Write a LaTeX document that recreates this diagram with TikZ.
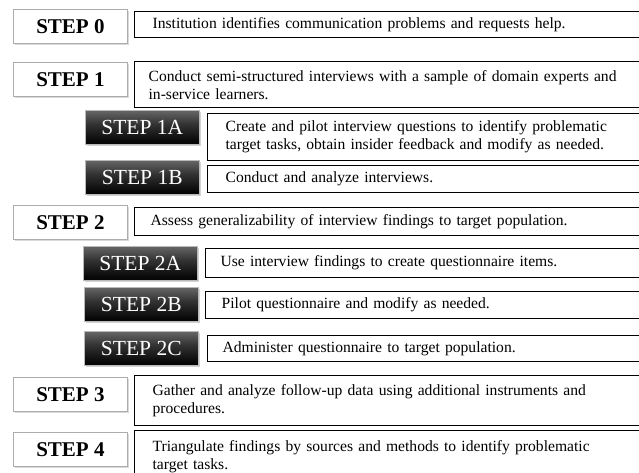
\documentclass[tikz,border=0pt]{standalone}
\usepackage{fontspec}
\setmainfont{Liberation Serif}
\usetikzlibrary{shadows}
\pgfdeclareverticalshading{darkstep}{100bp}{color(0bp)=(black); color(30bp)=(black!97); color(55bp)=(black!80); color(80bp)=(black!55); color(100bp)=(black!32)}
\begin{document}
\begin{tikzpicture}[x=1pt,y=-1pt,
  mainstep/.style={draw=gray!65, line width=0.8pt, fill=white, minimum width=114pt, minimum height=34pt,
    anchor=north west, inner sep=0pt, font=\fontsize{21}{23}\selectfont\bfseries,
    drop shadow={opacity=0.3, shadow xshift=1.2pt, shadow yshift=-1.5pt}},
  substep/.style={draw=gray!55, line width=0.6pt, shading=darkstep, minimum width=114pt, minimum height=34pt,
    anchor=north west, inner sep=0pt, text=white, font=\fontsize{21.5}{23}\selectfont,
    drop shadow={opacity=0.35, shadow xshift=1.2pt, shadow yshift=-1.5pt}},
  desc/.style={draw=black, line width=1.3pt, fill=white, anchor=north west, text width=540pt,
    inner xsep=16pt, inner ysep=0pt, align=left, font=\fontsize{15.6}{18}\selectfont}]
\useasboundingbox (0,0) rectangle (639,472);
\clip (0,0) rectangle (639,472);

% main steps
\node[mainstep] (s0) at (13,9)   {STEP 0};
\node[mainstep] (s1) at (13,62)  {STEP 1};
\node[mainstep] (s2) at (13,205) {STEP 2};
\node[mainstep] (s3) at (13,377) {STEP 3};
\node[mainstep] (s4) at (13,432) {STEP 4};

% sub-steps
\node[substep] (s1a) at (85,110) {STEP 1A};
\node[substep] (s1b) at (85,160) {STEP 1B};
\node[substep] (s2a) at (83,246) {STEP 2A};
\node[substep] (s2b) at (84,287) {STEP 2B};
\node[substep] (s2c) at (84,331) {STEP 2C};

% descriptions
\node[desc, minimum height=26pt, inner xsep=18pt] (d0) at (134,11)
  {Institution identifies communication problems and requests help.};
\node[desc, minimum height=46pt, inner xsep=14pt] (d1) at (134,61)
  {Conduct semi-structured interviews with a sample of domain experts and\\in-service learners.};
\node[desc, minimum height=47pt, inner xsep=18pt] (d1a) at (207,113)
  {Create and pilot interview questions to identify problematic\\target tasks, obtain insider feedback and modify as needed.};
\node[desc, minimum height=27pt, inner xsep=18pt] (d1b) at (207,165)
  {Conduct and analyze interviews.};
\node[desc, minimum height=28pt] (d2) at (134,207)
  {Assess generalizability of interview findings to target population.};
\node[desc, minimum height=29pt, inner xsep=15pt] (d2a) at (205,248)
  {Use interview findings to create questionnaire items.};
\node[desc, minimum height=27pt, inner xsep=16pt] (d2b) at (205,291)
  {Pilot questionnaire and modify as needed.};
\node[desc, minimum height=26pt, inner xsep=15pt] (d2c) at (207,335)
  {Administer questionnaire to target population.};
\node[desc, minimum height=50pt, inner xsep=18pt] (d3) at (134,375)
  {Gather and analyze follow-up data using additional instruments and\\procedures.};
\node[desc, minimum height=52pt, inner xsep=18pt] (d4) at (134,430)
  {Triangulate findings by sources and methods to identify problematic\\target tasks.};
\end{tikzpicture}
\end{document}
